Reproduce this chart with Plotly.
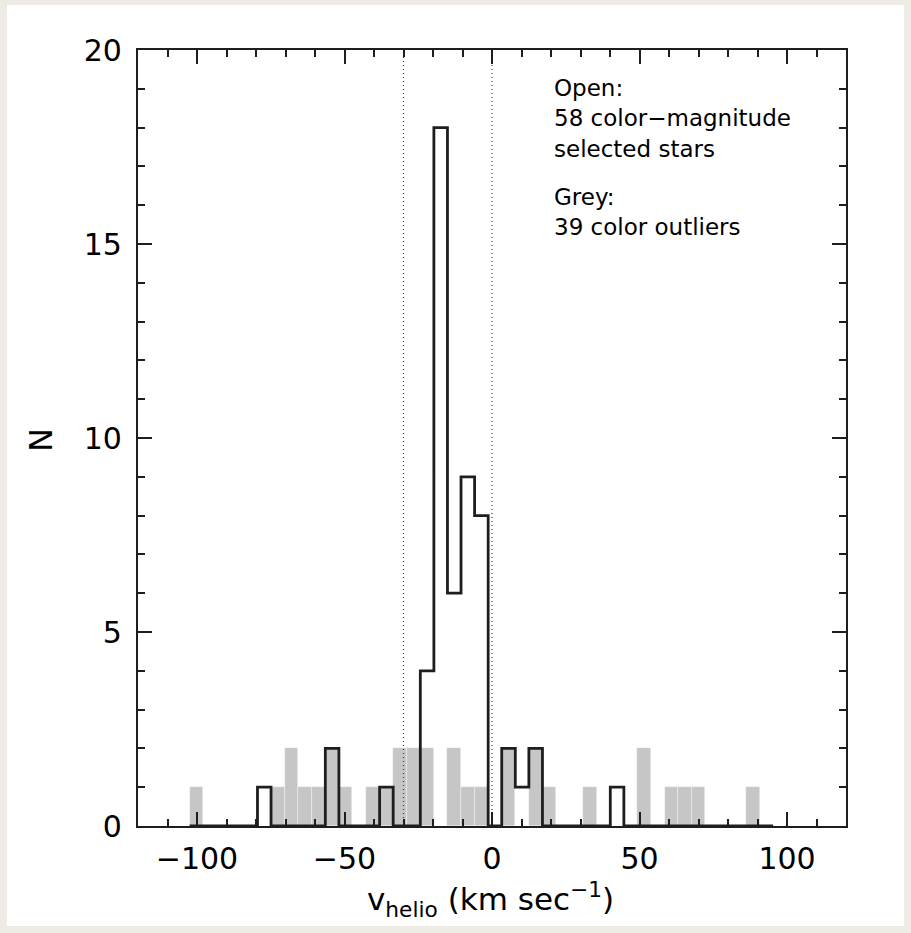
import plotly.graph_objects as go

# ---------------- data ----------------
bin_edges = [-102.5, -97.9, -93.3, -88.7, -84.1, -79.5, -74.9, -70.3, -65.7, -61.1,
             -56.5, -51.9, -47.3, -42.7, -38.1, -33.5, -28.9, -24.3, -19.7, -15.1,
             -10.5, -5.9, -1.3, 3.3, 7.9, 12.5, 17.1, 21.7, 26.3, 30.9,
             35.5, 40.1, 44.7, 49.3, 53.9, 58.5, 63.1, 67.7, 72.3, 76.9,
             81.5, 86.1, 90.7, 95.3]
open_counts = [0, 0, 0, 0, 0, 1, 0, 0, 0, 0,
               2, 0, 0, 0, 1, 0, 0, 4, 18, 6,
               9, 8, 0, 2, 1, 2, 0, 0, 0, 0,
               0, 1, 0, 0, 0, 0, 0, 0, 0, 0,
               0, 0, 0]
grey_counts = [1, 0, 0, 0, 0, 0, 1, 2, 1, 1,
               2, 1, 0, 1, 1, 2, 2, 2, 0, 2,
               1, 1, 0, 2, 0, 2, 1, 0, 0, 1,
               0, 0, 0, 2, 0, 1, 1, 1, 0, 0,
               0, 1, 0]
vlines = [-30, 0]
x_ticks = [-100, -50, 0, 50, 100]
x_ticklabels = ["\u2212100", "\u221250", "0", "50", "100"]
y_ticks = [0, 5, 10, 15, 20]
y_ticklabels = ["0", "5", "10", "15", "20"]
note_lines = ["Open:", "58 color\u2212magnitude", "selected stars", "Grey:", "39 color outliers"]

# ---------------- layout geometry (pixels) ----------------
W, H = 911, 933
L, R, T, B = 138, 846, 50, 826
pw, ph = R - L, B - T

def px_x(p):
    return (p - L) / pw

def px_y(p):
    return (B - p) / ph

FONT = "DejaVu Sans"
INK = "#1e1e1e"
TXT = "#000000"

fig = go.Figure()

# grey histogram (filled)
centers = [(bin_edges[i] + bin_edges[i + 1]) / 2 for i in range(len(grey_counts))]
widths = [bin_edges[i + 1] - bin_edges[i] for i in range(len(grey_counts))]
fig.add_trace(go.Bar(x=centers, y=grey_counts, width=widths,
                     marker=dict(color="#c6c6c6", line=dict(color="rgba(255,255,255,0.6)", width=0.6)),
                     hoverinfo="skip", showlegend=False))

# dotted vertical lines
for v in vlines:
    fig.add_trace(go.Scatter(x=[v, v], y=[0, 20], mode="lines",
                             line=dict(color="#444444", width=1.3, dash="1px,3px"),
                             hoverinfo="skip", showlegend=False))

# open histogram outline (step)
sx = [bin_edges[0]] + bin_edges[:-1] + [bin_edges[-1]]
sy = [0] + open_counts + [0]
fig.add_trace(go.Scatter(x=sx, y=sy, mode="lines", line=dict(color=INK, width=2.8, shape="hv"),
                         hoverinfo="skip", showlegend=False))

axis_common = dict(showgrid=False, zeroline=False, showline=True, linecolor=INK, linewidth=2.2,
                   mirror="allticks", ticks="inside", tickcolor=INK, tickwidth=2,
                   tickfont=dict(family=FONT, size=30, color=TXT))

fig.update_xaxes(range=[-120, 120], tickvals=x_ticks, ticktext=x_ticklabels, ticklen=14,
                 minor=dict(dtick=10, tick0=0, ticklen=7, ticks="inside", tickcolor=INK, tickwidth=2),
                 ticklabelstandoff=5, **axis_common)
fig.update_yaxes(range=[0, 20], tickvals=y_ticks, ticktext=y_ticklabels, ticklen=14,
                 minor=dict(dtick=1, tick0=0, ticklen=7, ticks="inside", tickcolor=INK, tickwidth=2),
                 ticklabelstandoff=8, **axis_common)

shapes = [dict(type="rect", xref="paper", yref="paper", layer="below",
               x0=px_x(7), x1=px_x(904), y0=px_y(926), y1=px_y(5),
               fillcolor="white", line=dict(width=0))]

annotations = []
line_y = [88, 118, 149, 197, 227]
for txt, yy in zip(note_lines, line_y):
    annotations.append(dict(xref="paper", yref="paper", x=px_x(552), y=px_y(yy), text=txt,
                            showarrow=False, xanchor="left", yanchor="middle",
                            font=dict(family=FONT, size=23, color=TXT)))
annotations.append(dict(xref="paper", yref="paper", x=px_x(490), y=px_y(899),
                        text="v<sub>helio</sub> (km sec<sup>\u22121</sup>)", showarrow=False,
                        xanchor="center", yanchor="middle",
                        font=dict(family=FONT, size=31, color=TXT)))
annotations.append(dict(xref="paper", yref="paper", x=px_x(41), y=px_y(440), text="N",
                        textangle=-90, showarrow=False, xanchor="center", yanchor="middle",
                        font=dict(family=FONT, size=32, color=TXT)))

fig.update_layout(width=W, height=H, margin=dict(l=L, r=W - R, t=T, b=H - B, pad=0),
                  paper_bgcolor="#eeebe4", plot_bgcolor="white", bargap=0,
                  shapes=shapes, annotations=annotations, showlegend=False)

fig.write_html("out.html")
